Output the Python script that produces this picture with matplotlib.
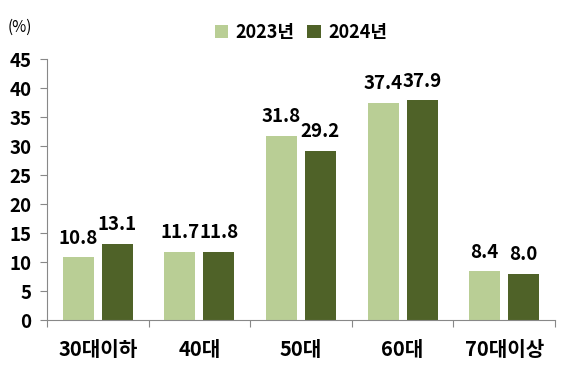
import matplotlib
matplotlib.use("Agg")
import matplotlib.pyplot as plt
import numpy as np

categories = ["30대이하", "40대", "50대", "60대", "70대이상"]
series_names = ["2023년", "2024년"]
values_2023 = [10.8, 11.7, 31.8, 37.4, 8.4]
values_2024 = [13.1, 11.8, 29.2, 37.9, 8.0]
yticks = [0, 5, 10, 15, 20, 25, 30, 35, 40, 45]

plt.rcParams['font.family'] = ['Noto Sans CJK KR', 'DejaVu Sans']

c_light = "#B9CE95"
c_dark = "#4F6228"

fig = plt.figure(figsize=(5.62, 3.67), dpi=100)
ax = fig.add_axes([0.0836, 0.128, 0.904, 0.711])

x = np.arange(len(categories))
w = 0.305
off = 0.192
b1 = ax.bar(x - off, values_2023, w, color=c_light, label=series_names[0])
b2 = ax.bar(x + off, values_2024, w, color=c_dark, label=series_names[1])

for bars, vals in ((b1, values_2023), (b2, values_2024)):
    for r, v in zip(bars, vals):
        ax.annotate(f"{v:.1f}", (r.get_x() + r.get_width() / 2, v),
                    xytext=(0, 7), textcoords="offset points",
                    ha="center", va="bottom", fontsize=13.5, fontweight="bold")

ax.set_xlim(-0.5, len(categories) - 0.5)
ax.set_ylim(0, 45)
ax.set_yticks(yticks)
ax.set_yticklabels([str(t) for t in yticks], fontsize=13.5, fontweight="bold")
ax.set_xticks(np.arange(len(categories) + 1) - 0.5)
ax.set_xticklabels([])
ax.set_xticks(x, minor=True)
ax.set_xticklabels(categories, minor=True, fontsize=14.5, fontweight="bold")
ax.tick_params(axis="x", which="minor", length=0, pad=14)
ax.tick_params(axis="x", which="major", length=5, color="#888888", width=0.8)
ax.tick_params(axis="y", length=5, color="#888888", width=0.8, pad=6)

for s in ("top", "right"):
    ax.spines[s].set_visible(False)
for s in ("left", "bottom"):
    ax.spines[s].set_color("#888888")
    ax.spines[s].set_linewidth(0.8)

fig.text(0.014, 0.925, "(%)", fontsize=11, ha="left", va="center")

leg = ax.legend(loc="center", bbox_to_anchor=(0.5, 1.103), ncol=2,
                frameon=False, fontsize=13,
                handlelength=0.75, handleheight=0.75, handletextpad=0.4,
                columnspacing=0.7, borderpad=0)
for t in leg.get_texts():
    t.set_fontweight("bold")

fig.savefig("out.png", dpi=100)
